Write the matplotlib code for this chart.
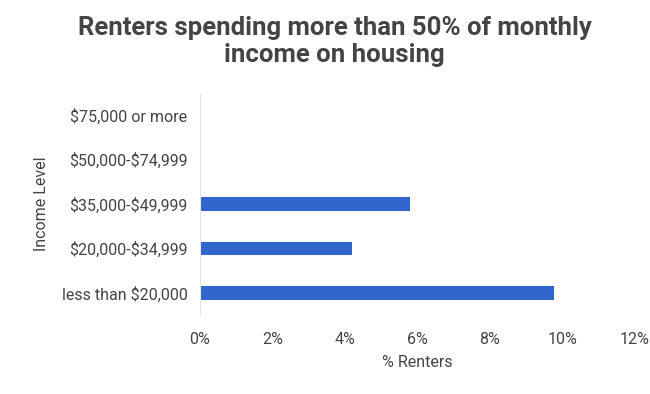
import matplotlib
matplotlib.use("Agg")
import matplotlib.pyplot as plt
from matplotlib.ticker import FuncFormatter

plt.rcParams["font.family"] = ["Roboto", "DejaVu Sans"]
plt.rcParams["text.parse_math"] = False

categorie = ["less than $20,000", "$20,000-$34,999", "$35,000-$49,999",
             "$50,000-$74,999", "$75,000 or more"]
percentuali = [9.78, 4.19, 5.8, 0.0, 0.0]
xticks = [0, 2, 4, 6, 8, 10, 12]

fig = plt.figure(figsize=(6.5, 3.94), dpi=100)
ax = fig.add_axes([0.3077, 0.2005, 0.669, 0.5635])

ax.barh(range(len(categorie)), percentuali, height=0.31, color="#3366cc")
ax.set_yticks(range(len(categorie)))
ax.set_yticklabels(categorie)
ax.set_ylim(-0.5, len(categorie) - 0.5)
ax.set_xlim(0, 12)
ax.set_xticks(xticks)
ax.xaxis.set_major_formatter(FuncFormatter(lambda v, p: f"{v:.0f}%"))

for s in ["top", "right", "bottom"]:
    ax.spines[s].set_visible(False)
ax.spines["left"].set_color("#e6e6e6")
ax.tick_params(length=0, labelsize=11.5, colors="#444444")
ax.tick_params(axis="y", pad=9)
ax.tick_params(axis="x", pad=12)

ax.set_xlabel("% Renters", fontsize=11.5, color="#444444", labelpad=6)
ax.set_ylabel("Income Level", fontsize=11.5, color="#444444", labelpad=9)

fig.text(0.515, 0.895, "Renters spending more than 50% of monthly\nincome on housing",
         ha="center", va="center", fontsize=18.5, fontweight="bold",
         color="#444444", linespacing=1.15)

fig.savefig("out.png", dpi=100, facecolor="white")
